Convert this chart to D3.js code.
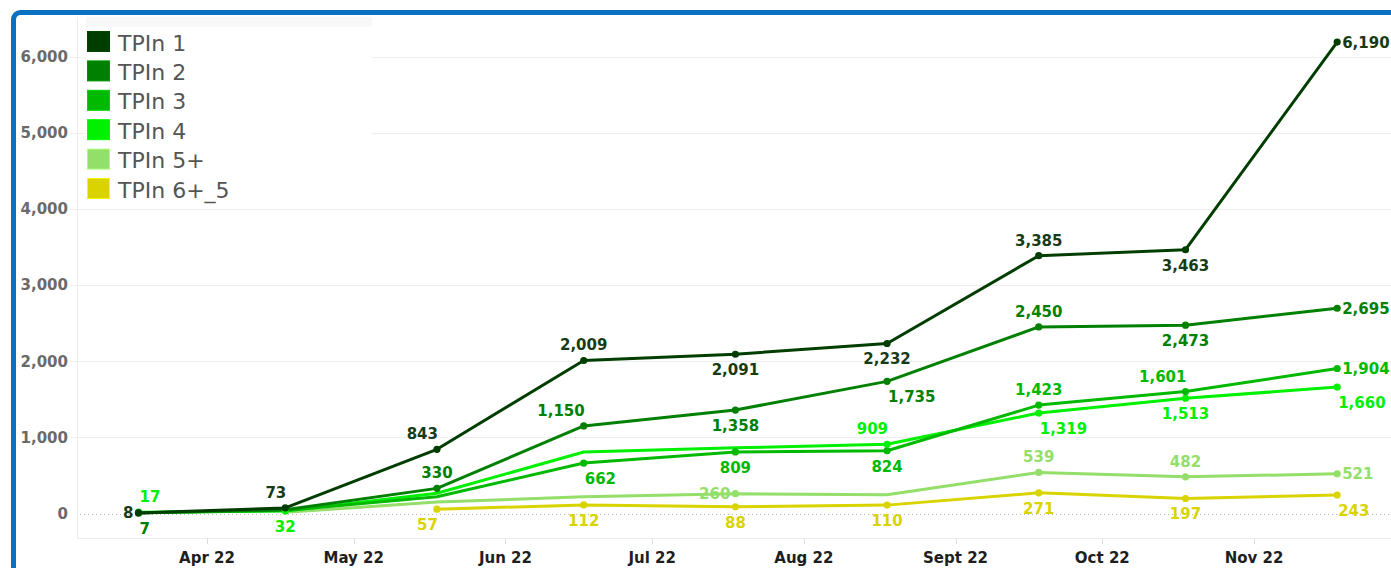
<!DOCTYPE html>
<html>
<head>
<meta charset="utf-8">
<script src="https://cdn.jsdelivr.net/npm/d3@7"></script>
<style>
body { margin: 0; background: #fff; }
svg { display: block; font-family: 'DejaVu Sans', sans-serif; }
</style>
</head>
<body>
<div id="chart"></div>
<script>
'use strict';

/* global d3 */

// data
var seriesNames = ['TPIn 1', 'TPIn 2', 'TPIn 3', 'TPIn 4', 'TPIn 5+', 'TPIn 6+_5'];
var seriesColors = ['#003d00', '#008000', '#00b900', '#00f000', '#94de6a', '#d9d400'];
var pointDates = ['2022-03-18', '2022-04-17', '2022-05-18', '2022-06-17', '2022-07-18', '2022-08-18', '2022-09-18', '2022-10-18', '2022-11-18'];

var tpin1 = [8, 73, 843, 2009, 2091, 2232, 3385, 3463, 6190];
var tpin2 = [7, 50, 330, 1150, 1358, 1735, 2450, 2473, 2695];
var tpin3 = [10, 40, 220, 662, 809, 824, 1423, 1601, 1904];
var tpin4 = [17, 32, 265, 807, 862, 909, 1319, 1513, 1660];
var tpin5 = [null, 15, 150, 220, 260, 245, 539, 482, 521];
var tpin6 = [null, null, 57, 112, 88, 110, 271, 197, 243];

// where Tableau put each mark label (null = no label, no dot)
var tpin1Labels = ['l', 'al', 'al', 'a', 'b', 'b', 'a', 'b', 'r'];
var tpin2Labels = ['br', null, 'a', 'al', 'b', 'br', 'a', 'b', 'r'];
var tpin3Labels = [null, null, null, 'br', 'b', 'b', 'a', 'al', 'r'];
var tpin4Labels = ['ar', 'b', null, null, null, 'al', 'br', 'b', 'br'];
var tpin5Labels = [null, null, null, null, 'l', null, 'a', 'a', 'r'];
var tpin6Labels = [null, null, 'bl', 'b', 'b', 'b', 'b', 'b', 'br'];

var yTicks = [0, 1000, 2000, 3000, 4000, 5000, 6000];
var xTickLabels = ['Apr 22', 'May 22', 'Jun 22', 'Jul 22', 'Aug 22', 'Sept 22', 'Oct 22', 'Nov 22'];

var width = 1391;
var height = 568;

var plot = {
	left: 77,
	right: 1391,
	top: 17,
	bottom: 538
};

var parseDate = d3.timeParse('%Y-%m-%d');
var fmt = d3.format(',');

var allValues = [tpin1, tpin2, tpin3, tpin4, tpin5, tpin6];
var allLabels = [tpin1Labels, tpin2Labels, tpin3Labels, tpin4Labels, tpin5Labels, tpin6Labels];

var series = seriesNames.map(function (name, i) {
	return {
		name: name,
		color: seriesColors[i],
		points: pointDates.map(function (d, j) {
			return { date: parseDate(d), value: allValues[i][j], spot: allLabels[i][j] };
		})
	};
});

var svg = d3.select('#chart').append('svg').attr('width', width).attr('height', height);

// month axis: Apr 1 sits at 207, Nov 1 at 1254
var x = d3.scaleTime().domain([new Date(2022, 3, 1), new Date(2022, 10, 1)]).range([207, 1254]);

var y = d3.scaleLinear().domain([0, 6000]).range([513.5, 56.5]);

// plot frame
svg.append('line').attr('x1', plot.left + 0.5).attr('x2', plot.left + 0.5).attr('y1', plot.top).attr('y2', plot.bottom).attr('stroke', '#ececec');

svg.append('line').attr('x1', plot.left).attr('x2', plot.right).attr('y1', plot.bottom + 0.5).attr('y2', plot.bottom + 0.5).attr('stroke', '#ececec');

// gridlines
svg.selectAll('line.grid').data(yTicks.filter(function (d) {
	return d !== 0;
})).enter().append('line').attr('class', 'grid').attr('x1', 70).attr('x2', plot.right).attr('y1', function (d) {
	return Math.round(y(d)) + 0.5;
}).attr('y2', function (d) {
	return Math.round(y(d)) + 0.5;
}).attr('stroke', '#efefef');

svg.append('line').attr('x1', 80).attr('x2', plot.right).attr('y1', Math.round(y(0)) + 0.5).attr('y2', Math.round(y(0)) + 0.5).attr('stroke', '#b8b8b8').attr('stroke-dasharray', '1,3');

// y axis labels
svg.selectAll('text.ytick').data(yTicks).enter().append('text').attr('class', 'ytick').attr('x', 68).attr('y', function (d) {
	return y(d);
}).attr('dy', '0.36em').attr('text-anchor', 'end').attr('fill', '#6a6a6a').attr('font-size', 15).attr('font-weight', 'bold').text(fmt);

// x axis ticks and labels
var monthTicks = d3.timeMonth.range(new Date(2022, 3, 1), new Date(2022, 11, 1));

svg.selectAll('line.xtick').data(monthTicks).enter().append('line').attr('class', 'xtick').attr('x1', function (d) {
	return Math.round(x(d)) + 0.5;
}).attr('x2', function (d) {
	return Math.round(x(d)) + 0.5;
}).attr('y1', plot.bottom).attr('y2', plot.bottom + 6).attr('stroke', '#dcdcdc');

svg.selectAll('text.xtick').data(monthTicks).enter().append('text').attr('class', 'xtick').attr('x', function (d) {
	return x(d);
}).attr('y', 563).attr('text-anchor', 'middle').attr('fill', '#1e1e1e').attr('font-size', 15).attr('font-weight', 'bold').text(function (d, i) {
	return xTickLabels[i];
});

// legend box over the plot
var legend = svg.append('g').attr('class', 'legend');

legend.append('rect').attr('x', 86).attr('y', 17).attr('width', 286).attr('height', 189).attr('fill', '#fff');
legend.append('rect').attr('x', 86).attr('y', 17).attr('width', 286).attr('height', 10).attr('fill', '#f8f8f8');

var legendRow = legend.selectAll('g.row').data(series).enter().append('g').attr('class', 'row').attr('transform', function (d, i) {
	return 'translate(87,' + (31 + i * 29.4) + ')';
});

legendRow.append('rect').attr('x', 0.5).attr('y', 0.5).attr('width', 22).attr('height', 20).attr('fill', function (d) {
	return d.color;
}).attr('stroke', function (d) {
	return d3.color(d.color).brighter(0.4);
}).attr('stroke-width', 1);

legendRow.append('text').attr('x', 31).attr('y', 19.5).attr('fill', '#555').attr('font-size', 22).text(function (d) {
	return d.name;
});

// lines, bottom series first so TPIn 1 ends on top
var line = d3.line().defined(function (d) {
	return d.value !== null;
}).x(function (d) {
	return x(d.date);
}).y(function (d) {
	return y(d.value);
});

var drawOrder = series.slice().reverse();

svg.selectAll('path.series').data(drawOrder).enter().append('path').attr('class', 'series').attr('d', function (d) {
	return line(d.points);
}).attr('fill', 'none').attr('stroke', function (d) {
	return d.color;
}).attr('stroke-width', 3).attr('stroke-linejoin', 'round').attr('stroke-linecap', 'round');

// dots only where a label is shown
drawOrder.forEach(function (s) {
	svg.selectAll(null).data(s.points.filter(function (p) {
		return p.value !== null && p.spot;
	})).enter().append('circle').attr('cx', function (d) {
		return x(d.date);
	}).attr('cy', function (d) {
		return y(d.value);
	}).attr('r', 3.6).attr('fill', s.color);
});

// mark labels
function labelX(p) {
	var px = x(p.date);
	if (p.spot === 'r') {
		return px + 5;
	}
	if (p.spot === 'l') {
		return px - 5;
	}
	if (p.spot === 'ar' || p.spot === 'br') {
		return px + 1;
	}
	if (p.spot === 'al' || p.spot === 'bl') {
		return px + 1;
	}
	return px;
}

function labelY(p) {
	var py = y(p.value);
	if (p.spot === 'a' || p.spot === 'al' || p.spot === 'ar') {
		return py - 10;
	}
	if (p.spot === 'b' || p.spot === 'bl' || p.spot === 'br') {
		return py + 21;
	}
	return py + 5.5;
}

function labelAnchor(p) {
	if (p.spot === 'r' || p.spot === 'ar' || p.spot === 'br') {
		return 'start';
	}
	if (p.spot === 'l' || p.spot === 'al' || p.spot === 'bl') {
		return 'end';
	}
	return 'middle';
}

series.forEach(function (s) {
	svg.selectAll(null).data(s.points.filter(function (p) {
		return p.value !== null && p.spot;
	})).enter().append('text').attr('x', labelX).attr('y', labelY).attr('text-anchor', labelAnchor).attr('fill', s.color === '#003d00' ? '#163c16' : s.color).attr('font-size', 15).attr('font-weight', 'bold').text(function (d) {
		return fmt(d.value);
	});
});

// blue frame round the dashboard tile
svg.append('rect').attr('x', 13.5).attr('y', 12.5).attr('width', 1500).attr('height', 700).attr('rx', 7).attr('fill', 'none').attr('stroke', '#0a70c2').attr('stroke-width', 5);
</script>
</body>
</html>
